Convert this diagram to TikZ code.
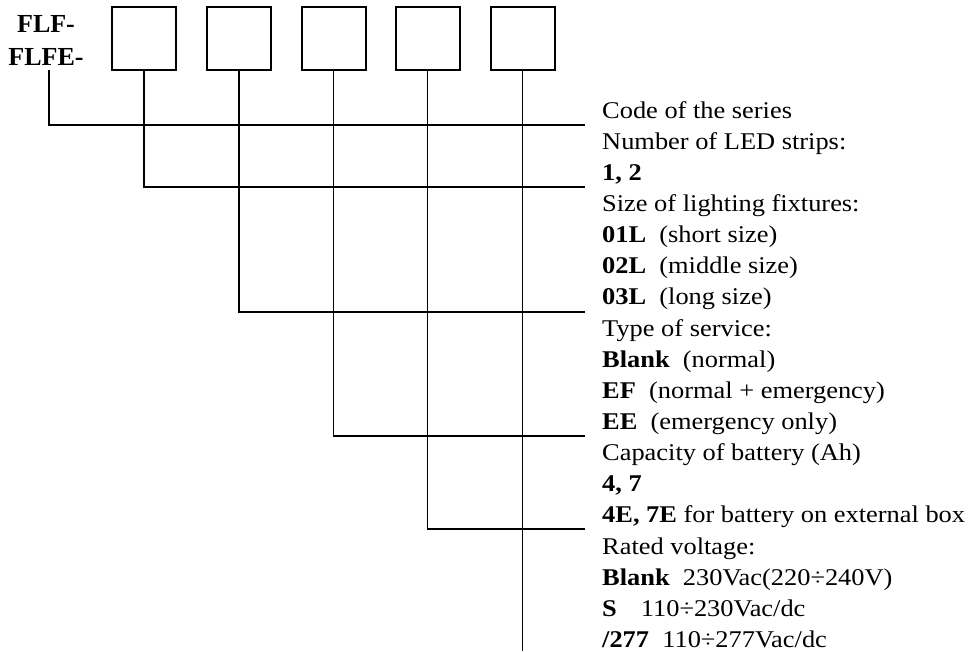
\documentclass[tikz,border=0pt]{standalone}
\usepackage{fontspec}
\setmainfont[FakeStretch=1.1]{Liberation Serif}
\newfontfamily\titlefont{Liberation Serif}
\begin{document}
\begin{tikzpicture}[x=1pt,y=-1pt,
  box/.style={draw, line width=2pt, minimum width=64pt, minimum height=63pt, inner sep=0pt},
  conn/.style={line width=1.8pt},
  lbl/.style={anchor=base west, inner sep=0pt, font=\fontsize{24}{24}\selectfont},
  ttl/.style={anchor=base, inner sep=0pt, font=\titlefont\bfseries\fontsize{26}{26}\selectfont}]
\useasboundingbox (0,0) rectangle (971,651);
% title
\node[ttl] (t1) at (46,32) {FLF-};
\node[ttl] (t2) at (46,65) {FLFE-};
% boxes
\node[box] (b1) at (144,38.5) {};
\node[box] (b2) at (239,38.5) {};
\node[box] (b3) at (333.5,38.5) {};
\node[box] (b4) at (427.5,38.5) {};
\node[box] (b5) at (522.5,38.5) {};
% labels
\foreach \i/\t in {
 0/{Code of the series},
 1/{Number of LED strips:},
 2/{\textbf{1, 2}},
 3/{Size of lighting fixtures:},
 4/{\textbf{01L}\ \ (short size)},
 5/{\textbf{02L}\ \ (middle size)},
 6/{\textbf{03L}\ \ (long size)},
 7/{Type of service:},
 8/{\textbf{Blank}\ \ (normal)},
 9/{\textbf{EF}\ \ (normal + emergency)},
 10/{\textbf{EE}\ \ (emergency only)},
 11/{Capacity of battery (Ah)},
 12/{\textbf{4, 7}},
 13/{\textbf{4E, 7E} for battery on external box},
 14/{Rated voltage:},
 15/{\textbf{Blank}\ \ 230Vac(220÷240V)},
 16/{\textbf{S}\hspace{24pt}110÷230Vac/dc},
 17/{\textbf{/277}\ \ 110÷277Vac/dc}}
 \node[lbl] (l\i) at (602,118+31.15*\i) {\t};
% connector ends
\coordinate (t0) at (49,70);
\coordinate (e0) at (585,125);
\coordinate (e1) at (585,187);
\coordinate (e2) at (585,312);
\coordinate (e3) at (585,436);
\coordinate (e4) at (585,529);
\coordinate (e5) at (522.5,651);
% connectors
\draw[conn] (t0) |- (e0);
\draw[conn] (b1.south) |- (e1);
\draw[conn] (b2.south) |- (e2);
\draw[conn] (b3.south) |- (e3);
\draw[conn] (b4.south) |- (e4);
\draw[conn] (b5.south) -- (e5);
\end{tikzpicture}
\end{document}
